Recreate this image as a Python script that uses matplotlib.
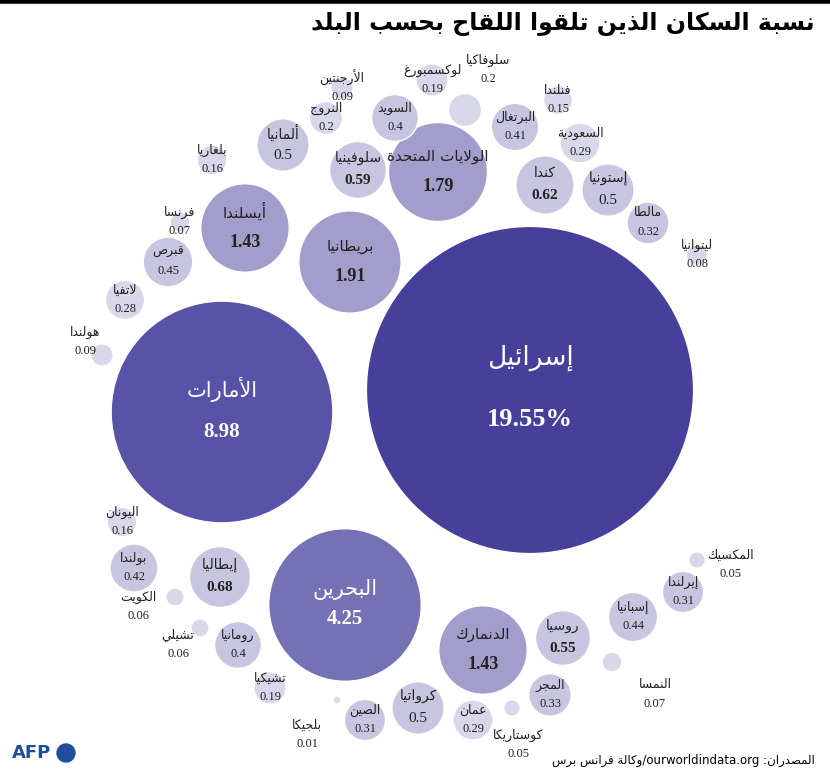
import numpy as np
import matplotlib
matplotlib.use("Agg")
import matplotlib.pyplot as plt
from matplotlib.patches import Circle

# --- minimal Arabic shaping (matplotlib has no complex text layout) ---
_FORMS = {
    'ء': (0xFE80, 1), 'آ': (0xFE81, 2), 'أ': (0xFE83, 2), 'ؤ': (0xFE85, 2),
    'إ': (0xFE87, 2), 'ئ': (0xFE89, 4), 'ا': (0xFE8D, 2), 'ب': (0xFE8F, 4),
    'ة': (0xFE93, 2), 'ت': (0xFE95, 4), 'ث': (0xFE99, 4), 'ج': (0xFE9D, 4),
    'ح': (0xFEA1, 4), 'خ': (0xFEA5, 4), 'د': (0xFEA9, 2), 'ذ': (0xFEAB, 2),
    'ر': (0xFEAD, 2), 'ز': (0xFEAF, 2), 'س': (0xFEB1, 4), 'ش': (0xFEB5, 4),
    'ص': (0xFEB9, 4), 'ض': (0xFEBD, 4), 'ط': (0xFEC1, 4), 'ظ': (0xFEC5, 4),
    'ع': (0xFEC9, 4), 'غ': (0xFECD, 4), 'ف': (0xFED1, 4), 'ق': (0xFED5, 4),
    'ك': (0xFED9, 4), 'ل': (0xFEDD, 4), 'م': (0xFEE1, 4), 'ن': (0xFEE5, 4),
    'ه': (0xFEE9, 4), 'و': (0xFEED, 2), 'ى': (0xFEEF, 2), 'ي': (0xFEF1, 4),
}
_LAMALEF = {'آ': 0xFEF5, 'أ': 0xFEF7, 'إ': 0xFEF9, 'ا': 0xFEFB}


def ar(s):
    chars = list(s)
    out = []
    i = 0
    while i < len(chars):
        c = chars[i]
        prev = chars[i - 1] if i > 0 else None
        joins_prev = prev in _FORMS and _FORMS[prev][1] == 4
        if c == 'ل' and i + 1 < len(chars) and chars[i + 1] in _LAMALEF:
            out.append(chr(_LAMALEF[chars[i + 1]] + (1 if joins_prev else 0)))
            i += 2
            continue
        if c not in _FORMS:
            out.append(c)
            i += 1
            continue
        base, n = _FORMS[c]
        nxt = chars[i + 1] if i + 1 < len(chars) else None
        joins_next = n == 4 and nxt in _FORMS
        if n == 1:
            g = base
        elif n == 2:
            g = base + (1 if joins_prev else 0)
        else:
            if joins_prev and joins_next:
                g = base + 3
            elif joins_prev:
                g = base + 1
            elif joins_next:
                g = base + 2
            else:
                g = base
        out.append(chr(g))
        i += 1
    return ''.join(out[::-1])


# --- data ---
countries = ['إسرائيل', 'الأمارات', 'البحرين', 'الدنمارك', 'الولايات المتحدة',
             'بريطانيا', 'أيسلندا', 'سلوفينيا', 'كندا', 'إيطاليا', 'روسيا',
             'إيرلندا', 'إسبانيا', 'المجر', 'عمان', 'كرواتيا', 'الصين', 'بلجيكا',
             'تشيكيا', 'رومانيا', 'تشيلي', 'الكويت', 'بولندا', 'اليونان',
             'هولندا', 'لاتفيا', 'قبرص', 'فرنسا', 'بلغاريا', 'ألمانيا', 'النروج',
             'الأرجنتين', 'السويد', 'لوكسمبورغ', 'سلوفاكيا', 'البرتغال', 'فنلندا',
             'السعودية', 'إستونيا', 'مالطا', 'ليتوانيا', 'المكسيك', 'النمسا',
             'كوستاريكا']
values = [19.55, 8.98, 4.25, 1.43, 1.79, 1.91, 1.43, 0.59, 0.62, 0.68, 0.55,
          0.31, 0.44, 0.33, 0.29, 0.5, 0.31, 0.01, 0.19, 0.4, 0.06, 0.06, 0.42,
          0.16, 0.09, 0.28, 0.45, 0.07, 0.16, 0.5, 0.2, 0.09, 0.4, 0.19, 0.2,
          0.41, 0.15, 0.29, 0.5, 0.32, 0.08, 0.05, 0.07, 0.05]
value_labels = ['19.55%'] + [f'{v:g}' for v in values[1:]]

# --- layout (packed bubble centres in pixels, and label offsets) ---
centers = [(530, 390), (222, 412), (345, 605), (483, 650), (438, 172),
           (350, 262), (245, 228), (358, 170), (545, 185), (220, 577),
           (563, 638), (683, 592), (633, 617), (550, 695), (473, 720),
           (418, 708), (365, 720), (337, 700), (270, 688), (238, 645),
           (200, 628), (175, 597), (134, 568), (122, 522), (102, 355),
           (125, 300), (168, 262), (180, 222), (212, 160), (283, 145),
           (326, 118), (342, 88), (395, 118), (432, 80), (465, 110),
           (515, 127), (558, 100), (580, 143), (608, 190), (648, 223),
           (697, 255), (697, 560), (612, 662), (512, 708)]
label_offsets = {'بلجيكا': (-30, 35), 'تشيلي': (-22, 17), 'الكويت': (-37, 10),
                 'هولندا': (-17, -13), 'سلوفاكيا': (23, -40),
                 'المكسيك': (33, 5), 'النمسا': (43, 33), 'كوستاريكا': (6, 37)}
K = 37.0


def colour(v):
    if v >= 15:
        return '#46409a'
    if v >= 6:
        return '#5853a7'
    if v >= 3:
        return '#7671b4'
    if v >= 1:
        return '#a39dcb'
    if v >= 0.3:
        return '#c8c5e1'
    return '#d9d7ea'


fig = plt.figure(figsize=(8.3, 7.76), dpi=100)
ax = fig.add_axes([0, 0, 1, 1])
ax.set_xlim(0, 830)
ax.set_ylim(776, 0)
ax.axis('off')

AR = 'DejaVu Sans'
NUM = 'Liberation Serif'

for name, v, lab, (x, y) in zip(countries, values, value_labels, centers):
    r = max(K * np.sqrt(v), 4)
    ax.add_patch(Circle((x, y), r, facecolor=colour(v), edgecolor='white', lw=1))
    dx, dy = label_offsets.get(name, (0, 0))
    if v >= 3:
        fs, fv, col, gap = 19 if v > 10 else 15, 19 if v > 10 else 15, 'white', 0.2 * r
    elif v >= 1:
        fs, fv, col, gap = 11, 13, '#222222', 16
    elif v >= 0.5:
        fs, fv, col, gap = 10, 11, '#222222', 12
    else:
        fs, fv, col, gap = 9, 9, '#222222', 10
    bold = 'bold' if v >= 0.55 else 'normal'
    ax.text(x + dx, y + dy - gap, ar(name), ha='center', va='center',
            fontsize=fs, color=col, family=AR)
    ax.text(x + dx, y + dy + gap * 0.9, lab, ha='center', va='center',
            fontsize=fv, color=col, family=NUM, weight=bold)

# title, rule, footer
ax.plot([0, 830], [1, 1], color='black', lw=4)
ax.text(815, 24, ar('نسبة السكان الذين تلقوا اللقاح بحسب البلد'), ha='right',
        va='center', fontsize=17, weight='bold', family=AR)
ax.text(12, 753, 'AFP', ha='left', va='center', fontsize=13, weight='bold',
        color='#1f4e9c', family='DejaVu Sans')
ax.add_patch(Circle((66, 753), 9, color='#1f4e9c'))
ax.text(815, 760, ar('وكالة فرانس برس') + '/ourworldindata.org ' + ar('المصدران:'),
        ha='right', va='center', fontsize=8.5, family=AR, style='normal')

fig.savefig('out.png', dpi=100)
